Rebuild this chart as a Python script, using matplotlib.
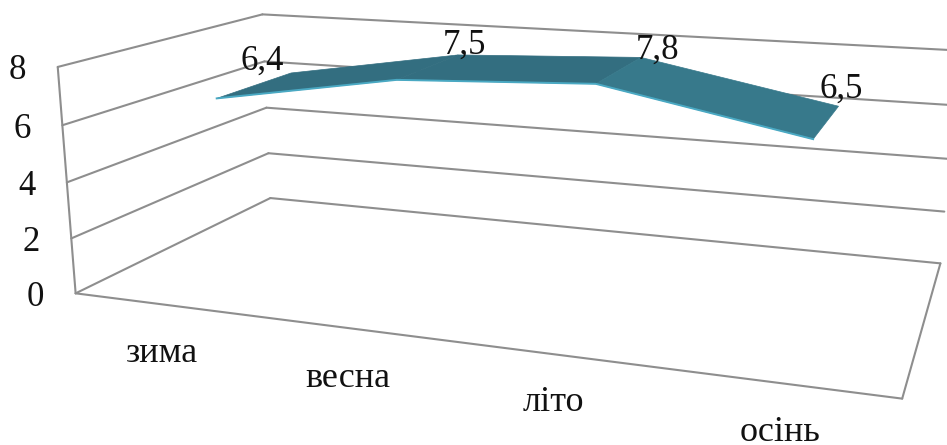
import numpy as np
import matplotlib
matplotlib.use("Agg")
import matplotlib.pyplot as plt

categories = ["зима", "весна", "літо", "осінь"]
values = [6.4, 7.5, 7.8, 6.5]
value_labels = ["6,4", "7,5", "7,8", "6,5"]
value_ticks = [0, 2, 4, 6, 8]

# ribbon depth inside the box, 0 = front, 1 = back
RIBBON_FRONT = 0.30
RIBBON_BACK = 0.70

GRID_COLOR = "#8e8e8e"
SEGMENT_COLORS = ["#336e80", "#336e80", "#37798b"]
EDGE_COLOR = "#4aa9c3"
TEXT_COLOR = "#111111"
FONT = "Liberation Serif"

# box anchors: (x 0-1, depth 0-1, value) -> pixel
anchors = [
    ((0, 0, 0), (75, 294)), ((0, 0, 2), (72, 238)), ((0, 0, 4), (68, 182)),
    ((0, 0, 6), (62, 125)), ((0, 0, 8), (57, 67)),
    ((0, 1, 0), (270, 198)), ((0, 1, 2), (268, 153)), ((0, 1, 4), (267, 108)),
    ((0, 1, 6), (265, 62)), ((0, 1, 8), (262, 14)),
    ((1, 1, 0), (941, 263)), ((1, 1, 2), (944, 212)), ((1, 1, 4), (948, 158)),
    ((1, 1, 6), (952, 105)), ((1, 1, 8), (957, 51)),
    ((1, 0, 0), (902, 399)),
]


def fit_camera(points):
    rows = []
    for (x, d, v), (u, w) in points:
        q = np.array([x, d, v / 8, 1.0])
        u, w = u / 1000, w / 1000
        rows.append(np.r_[q, np.zeros(4), -u * q])
        rows.append(np.r_[np.zeros(4), q, -w * q])
    _, _, vt = np.linalg.svd(np.array(rows))
    return vt[-1].reshape(3, 4)


camera = fit_camera(anchors)


def project(x, d, v):
    p = camera @ np.array([x, d, v / 8, 1.0])
    return p[0] / p[2] * 1000, p[1] / p[2] * 1000


def box_line(start, end):
    a = project(*start)
    b = project(*end)
    ax.plot([a[0], b[0]], [a[1], b[1]], color=GRID_COLOR, lw=1.5,
            solid_capstyle="round", zorder=1)


fig = plt.figure(figsize=(9.47, 4.45), dpi=100)
ax = fig.add_axes([0, 0, 1, 1])
ax.set_xlim(0, 947)
ax.set_ylim(445, 0)
ax.axis("off")

# walls and floor
for v in value_ticks:
    box_line((0, 0, v), (0, 1, v))
    box_line((0, 1, v), (1, 1, v))
box_line((0, 0, 0), (0, 0, 8))
box_line((0, 0, 0), (1, 0, 0))
box_line((1, 0, 0), (1, 1, 0))

# ribbon
xs = [(i + 0.5) / len(categories) for i in range(len(categories))]
front = [project(x, RIBBON_FRONT, v) for x, v in zip(xs, values)]
back = [project(x, RIBBON_BACK, v) for x, v in zip(xs, values)]
for i in range(len(values) - 1):
    quad = [front[i], front[i + 1], back[i + 1], back[i]]
    ax.fill(*zip(*quad), facecolor=SEGMENT_COLORS[i],
            edgecolor=SEGMENT_COLORS[i], lw=0.5, zorder=2)
ax.plot(*zip(*front), color=EDGE_COLOR, lw=1.4, zorder=3)

# value axis labels
for v in value_ticks:
    px, py = project(0, 0, v)
    ax.text(px - 40, py + 12.5, str(v), fontsize=25, family=FONT,
            ha="center", va="baseline", color=TEXT_COLOR, zorder=4)

label_pos = [(262, 70), (464, 54), (658, 59), (841, 98)]
for text, (px, py) in zip(value_labels, label_pos):
    ax.text(px, py, text, fontsize=25, family=FONT, ha="center", va="baseline",
            color=TEXT_COLOR, zorder=4)

category_pos = [(162, 362), (348, 387), (553, 411), (780, 441)]
for text, (px, py) in zip(categories, category_pos):
    ax.text(px, py, text, fontsize=26, family=FONT, ha="center", va="baseline",
            color=TEXT_COLOR, zorder=4)

fig.savefig("out.png", dpi=100)
plt.close(fig)
